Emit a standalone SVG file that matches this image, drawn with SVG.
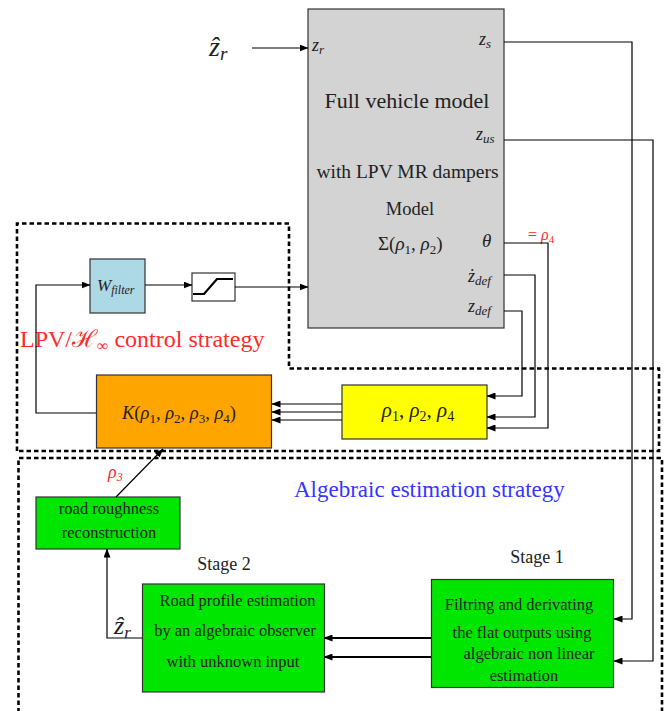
<svg xmlns="http://www.w3.org/2000/svg" width="667" height="711" viewBox="0 0 667 711">
<style>
text{font-family:"Liberation Serif","DejaVu Serif",serif;fill:#222}
.m{font-style:italic}
.box{stroke:#333;stroke-width:1.2}
.ln{fill:none;stroke:#000;stroke-width:1.2}
.thick{fill:none;stroke:#000;stroke-width:2.2}
.dash{fill:none;stroke:#000;stroke-width:2.6;stroke-dasharray:4.5 3}
.red{fill:#ff2a2a}
.blue{fill:#3535ff}
</style>
<defs>
<marker id="ah" markerWidth="9" markerHeight="7" refX="8.5" refY="3.5" orient="auto" markerUnits="userSpaceOnUse">
<path d="M0,0 L9,3.5 L0,7 z" fill="#000"/>
</marker>
</defs>

<g id="regions">
<path class="dash" d="M17,451 V223.5 H289 V368.5 H659 V451 Z"/>
<path class="dash" d="M18.5,720 V458 H662 V720"/>
<text class="red" x="20" y="347" font-size="24">LPV/ℋ<tspan font-size="16" dy="4">∞</tspan><tspan dy="-4"> control strategy</tspan></text>
<text class="blue" x="294" y="497" font-size="23">Algebraic estimation strategy</text>
</g>

<g id="vehicle">
<rect class="box" x="308" y="9" width="196" height="319" fill="#d3d3d3"/>
<text x="407" y="108" font-size="22" text-anchor="middle">Full vehicle model</text>
<text x="407.5" y="178" font-size="19.5" text-anchor="middle">with LPV MR dampers</text>
<text x="410" y="215" font-size="18.5" text-anchor="middle">Model</text>
<text x="378" y="250" font-size="19">Σ(<tspan class="m">ρ</tspan><tspan font-size="13" dy="4">1</tspan><tspan dy="-4">, </tspan><tspan class="m">ρ</tspan><tspan font-size="13" dy="4">2</tspan><tspan dy="-4">)</tspan></text>
<text class="m" x="312" y="51" font-size="18">z<tspan font-size="13" dy="3">r</tspan></text>
<text class="m" x="479" y="45" font-size="18">z<tspan font-size="13" dy="3">s</tspan></text>
<text class="m" x="476" y="140" font-size="18">z<tspan font-size="13" dy="3">us</tspan></text>
<text class="m" x="482" y="247" font-size="19">θ</text>
<text class="m" x="468" y="282" font-size="18">ż<tspan font-size="13" dy="3">def</tspan></text>
<text class="m" x="468" y="312" font-size="18">z<tspan font-size="13" dy="3">def</tspan></text>
</g>

<g id="zr-input">
<text class="m" x="209" y="56" font-size="28">ẑ<tspan font-size="19" dy="4">r</tspan></text>
</g>

<g id="rho4-label">
<text class="red" x="528" y="240" font-size="16">= <tspan class="m">ρ</tspan><tspan font-size="11" dy="3">4</tspan></text>
</g>

<g id="wfilter">
<rect class="box" x="90" y="259" width="55" height="54" fill="#add8e6"/>
<text class="m" x="97" y="291" font-size="17">W<tspan font-size="12" dy="3">filter</tspan></text>
</g>

<g id="saturation">
<rect class="box" x="192" y="273" width="43" height="28" fill="#fff"/>
<path d="M193,294 H204 L217,279 H233" fill="none" stroke="#000" stroke-width="2.2"/>
</g>

<g id="controller">
<rect class="box" x="96.5" y="375" width="175" height="73" fill="#ffa500"/>
<text x="179" y="419" font-size="18.5" text-anchor="middle"><tspan class="m">K</tspan>(<tspan class="m">ρ</tspan><tspan font-size="13" dy="4">1</tspan><tspan dy="-4">, </tspan><tspan class="m">ρ</tspan><tspan font-size="13" dy="4">2</tspan><tspan dy="-4">, </tspan><tspan class="m">ρ</tspan><tspan font-size="13" dy="4">3</tspan><tspan dy="-4">, </tspan><tspan class="m">ρ</tspan><tspan font-size="13" dy="4">4</tspan><tspan dy="-4">)</tspan></text>
</g>

<g id="scheduling">
<rect class="box" x="342" y="385" width="145" height="54" fill="#ffff00"/>
<text x="418" y="417" font-size="21" text-anchor="middle"><tspan class="m">ρ</tspan><tspan font-size="14" dy="4">1</tspan><tspan dy="-4">, </tspan><tspan class="m">ρ</tspan><tspan font-size="14" dy="4">2</tspan><tspan dy="-4">, </tspan><tspan class="m">ρ</tspan><tspan font-size="14" dy="4">4</tspan></text>
</g>

<g id="roughness">
<rect class="box" x="36" y="497" width="144" height="52" fill="#00e600"/>
<text x="109" y="514" font-size="16.5" text-anchor="middle">road roughness</text>
<text x="109" y="538" font-size="16.5" text-anchor="middle">reconstruction</text>
<text class="red m" x="108" y="478" font-size="18">ρ<tspan font-size="12" dy="3">3</tspan></text>
</g>

<g id="stage2">
<text x="224" y="570" font-size="18" text-anchor="middle" fill="#333">Stage 2</text>
<rect class="box" x="142.5" y="584" width="182" height="108" fill="#00e600"/>
<text x="237.5" y="606" font-size="16.5" text-anchor="middle">Road profile estimation</text>
<text x="235" y="636" font-size="16.5" text-anchor="middle">by an algebraic observer</text>
<text x="233" y="667" font-size="16.5" text-anchor="middle">with unknown input</text>
<text class="m" x="114" y="634" font-size="26">ẑ<tspan font-size="17" dy="4">r</tspan></text>
</g>

<g id="stage1">
<text x="537" y="563" font-size="18" text-anchor="middle" fill="#333">Stage 1</text>
<rect class="box" x="431.5" y="579.5" width="182" height="108" fill="#00e600"/>
<text x="519" y="610" font-size="16.5" text-anchor="middle">Filtring and derivating</text>
<text x="522" y="638" font-size="16.5" text-anchor="middle">the flat outputs using</text>
<text x="529" y="659" font-size="16.5" text-anchor="middle">algebraic non linear</text>
<text x="524" y="681" font-size="16.5" text-anchor="middle">estimation</text>
</g>

<g id="connectors">
<path class="ln" d="M252,48 H308" marker-end="url(#ah)"/>
<path class="ln" d="M504,42 H632 V619 H614" marker-end="url(#ah)"/>
<path class="ln" d="M504,140 H653 V661 H614" marker-end="url(#ah)"/>
<path class="ln" d="M504,243 H548 V428 H487" marker-end="url(#ah)"/>
<path class="ln" d="M504,275 H535 V417 H487" marker-end="url(#ah)"/>
<path class="ln" d="M504,311 H522 V396 H487" marker-end="url(#ah)"/>
<path class="ln" d="M342,404 H272" marker-end="url(#ah)"/>
<path class="ln" d="M342,412 H272" marker-end="url(#ah)"/>
<path class="ln" d="M342,420 H272" marker-end="url(#ah)"/>
<path class="ln" d="M96,413 H36 V285 H90" marker-end="url(#ah)"/>
<path class="ln" d="M145,285 H192" marker-end="url(#ah)"/>
<path class="ln" d="M235,287 H308" marker-end="url(#ah)"/>
<path class="ln" d="M116,497 L163,449" marker-end="url(#ah)"/>
<path class="thick" d="M431,638 H324" marker-end="url(#ah)"/>
<path class="thick" d="M431,657 H324" marker-end="url(#ah)"/>
<path class="ln" d="M142,638 H107 V549" marker-end="url(#ah)"/>
</g>
</svg>
